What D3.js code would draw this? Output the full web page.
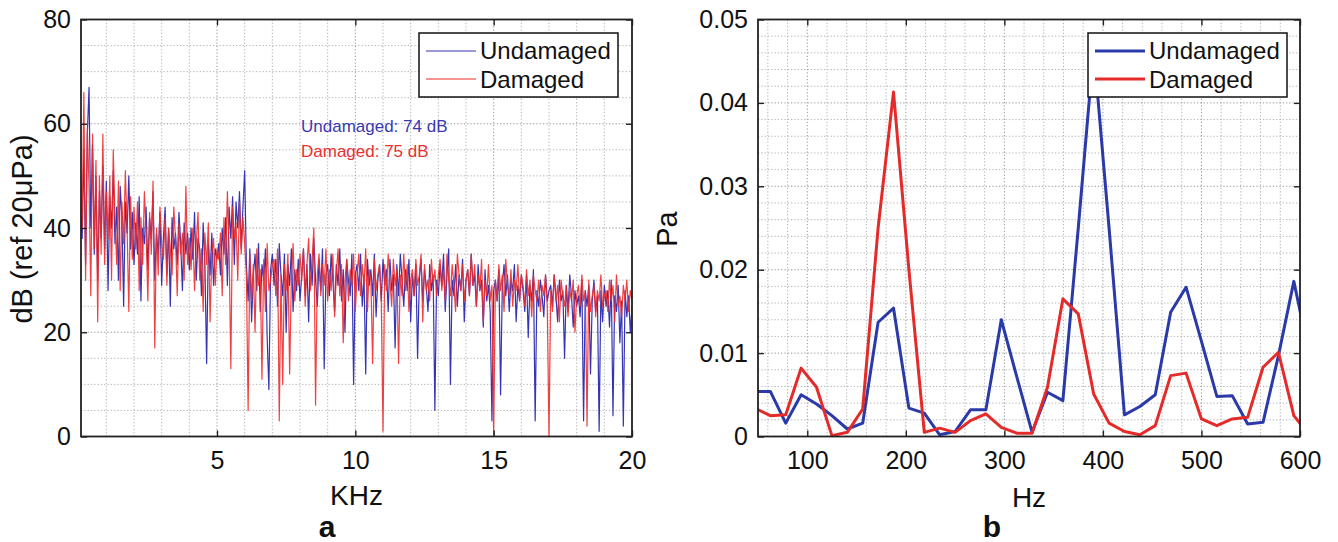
<!DOCTYPE html>
<html>
<head>
<meta charset="utf-8">
<script src="https://cdn.jsdelivr.net/npm/d3@7"></script>
<style>
  body { margin: 0; background: #fff; }
  text { font-family: "Liberation Sans", Arial, Helvetica, sans-serif; }
</style>
</head>
<body>
<svg id="fig" width="1338" height="542"></svg>
<script>
// panel a: level per 62.5 Hz bin, 16 bins per kHz (one row = 1 kHz)
const kHzBin = 0.0625;
const undamagedDb = [
  45,38,55,33,58,67,40,56,35,50,30,47,38,52,36,49,
  28,46,40,51,37,44,30,48,42,25,45,39,50,36,43,33,
  41,35,46,26,40,37,44,32,42,38,47,30,39,35,43,29,
  38,44,31,40,25,42,36,39,33,43,37,28,41,35,39,32,
  40,34,43,30,38,36,27,41,33,14,37,31,39,29,36,34,
  37,31,40,35,42,29,44,38,46,33,45,40,47,36,44,51,
  33,26,36,22,31,35,28,37,24,33,30,36,19,9,32,35,
  29,34,25,37,31,27,35,20,33,29,36,24,32,28,34,26,
  31,36,27,33,22,35,29,38,30,25,34,28,36,13,31,33,
  27,35,30,24,33,29,36,26,32,20,34,30,27,35,10,31,
  33,28,35,25,31,12,34,29,32,27,35,23,30,33,26,34,
  29,32,24,34,28,31,17,33,27,35,30,25,32,28,34,22,
  31,27,33,15,30,34,26,32,29,24,33,28,31,5,30,27,
  33,29,35,24,31,36,10,30,27,33,25,31,28,34,22,30,
  32,27,35,29,31,25,33,28,30,21,32,26,29,24,3,28,
  30,26,32,8,29,33,27,31,24,30,28,33,22,29,26,31,
  28,24,31,19,29,26,32,3,28,25,30,27,23,31,26,28,
  29,25,31,27,22,30,26,28,15,29,24,31,27,21,28,25,
  27,23,30,3,28,25,29,12,26,30,24,27,1,28,22,29,
  25,28,21,30,4,27,24,29,18,26,2,28,23,27,20,25
];
const damagedDb = [
  52,40,66,30,59,48,27,58,36,53,22,50,35,58,33,47,
  38,50,30,55,42,33,49,28,45,37,51,40,24,46,34,44,
  36,45,28,42,33,47,39,26,43,35,49,17,40,31,44,37,
  34,42,29,40,36,31,44,38,27,41,35,39,30,48,33,38,
  32,40,28,37,43,30,36,24,39,33,41,22,35,38,29,36,
  34,39,27,42,33,47,36,13,44,38,41,30,45,35,42,37,
  31,5,35,26,33,20,36,29,32,11,34,24,37,28,30,33,
  34,27,36,3,31,10,33,28,35,12,30,37,26,32,29,35,
  30,36,25,33,38,28,34,40,6,31,35,27,33,29,36,26,
  32,28,35,23,31,36,27,33,18,30,34,26,32,29,35,24,
  31,35,27,33,29,36,24,32,30,14,34,28,31,33,26,1,
  33,28,35,30,25,34,29,32,14,31,27,35,28,33,24,30,
  32,27,34,29,31,35,22,33,28,30,26,34,29,32,27,31,
  34,28,32,26,35,30,27,33,29,24,35,31,28,33,26,30,
  32,27,35,29,33,25,31,28,34,22,30,27,33,26,29,0,
  30,26,33,28,31,24,34,29,27,32,25,30,28,33,26,31,
  29,25,32,27,30,23,31,28,26,30,24,29,27,31,25,0,
  28,24,31,26,29,22,30,27,25,29,23,28,26,30,20,27,
  29,25,31,26,28,2,30,24,27,29,23,28,26,31,25,27,
  28,24,30,26,29,22,31,25,27,23,29,26,30,24,28,26
];

// panel b: low-frequency amplitude
const hzBins = [46.875, 62.5, 78.125, 93.75, 109.375, 125, 140.625, 156.25, 171.875, 187.5,
  203.125, 218.75, 234.375, 250, 265.625, 281.25, 296.875, 312.5, 328.125, 343.75,
  359.375, 375, 390.625, 406.25, 421.875, 437.5, 453.125, 468.75, 484.375, 500,
  515.625, 531.25, 546.875, 562.5, 578.125, 593.75, 609.375];
const undamagedPa = [0.0054, 0.0054, 0.0016, 0.0050, 0.0039, 0.0025, 0.0009, 0.0016, 0.0137, 0.0154,
  0.0034, 0.0028, 0.0002, 0.0006, 0.0032, 0.0032, 0.0140, 0.0072, 0.0005, 0.0053,
  0.0043, 0.0250, 0.0465, 0.0250, 0.0026, 0.0036, 0.0050, 0.0149, 0.0179, 0.0114,
  0.0048, 0.0049, 0.0015, 0.0017, 0.0097, 0.0186, 0.0098];
const damagedPa = [0.0034, 0.0025, 0.0026, 0.0082, 0.0059, 0.0001, 0.0005, 0.0033, 0.0250, 0.0413,
  0.0200, 0.0005, 0.0010, 0.0005, 0.0019, 0.0027, 0.0011, 0.0004, 0.0004, 0.0059,
  0.0165, 0.0147, 0.0051, 0.0016, 0.0006, 0.0002, 0.0013, 0.0073, 0.0076, 0.0021,
  0.0013, 0.0021, 0.0023, 0.0083, 0.0101, 0.0025, 0.0002];

const kHzTicks = [5, 10, 15, 20];
const dbTicks = [0, 20, 40, 60, 80];
const hzTicks = [100, 200, 300, 400, 500, 600];
const paTicks = [0, 0.01, 0.02, 0.03, 0.04, 0.05];
const seriesNames = ["Undamaged", "Damaged"];
const levelNotes = ["Undamaged: 74 dB", "Damaged: 75 dB"];

const svg = d3.select("#fig");
svg.append("rect").attr("width", 1338).attr("height", 542).attr("fill", "#fff");

const plotTop = 19.5, plotBottom = 436.5;

function panel(cfg) {
  const x = d3.scaleLinear().domain(cfg.xDomain).range(cfg.xRange);
  const y = d3.scaleLinear().domain(cfg.yDomain).range([plotBottom, plotTop]);
  const g = svg.append("g");
  const x0 = cfg.xRange[0], x1 = cfg.xRange[1];

  // dotted grid, minor then major
  const grid = g.append("g").attr("fill", "none").attr("stroke-dasharray", "1.3,2");
  grid.selectAll(".vm").data(cfg.xMinor).join("line")
    .attr("x1", d => x(d)).attr("x2", d => x(d))
    .attr("y1", plotTop).attr("y2", plotBottom)
    .attr("stroke", "#b4b4b4");
  grid.selectAll(".hm").data(cfg.yMinor).join("line")
    .attr("x1", x0).attr("x2", x1)
    .attr("y1", d => y(d)).attr("y2", d => y(d))
    .attr("stroke", "#b4b4b4");
  grid.selectAll(".vM").data(cfg.xTicks).join("line")
    .attr("x1", d => x(d)).attr("x2", d => x(d))
    .attr("y1", plotTop).attr("y2", plotBottom)
    .attr("stroke", "#999");
  grid.selectAll(".hM").data(cfg.yTicks).join("line")
    .attr("x1", x0).attr("x2", x1)
    .attr("y1", d => y(d)).attr("y2", d => y(d))
    .attr("stroke", "#999");

  const clipId = "clip-" + cfg.id;
  svg.append("clipPath").attr("id", clipId)
    .append("rect")
    .attr("x", x0).attr("y", plotTop)
    .attr("width", x1 - x0).attr("height", plotBottom - plotTop);

  cfg.series.forEach(s => {
    const line = d3.line()
      .x((d, i) => x(cfg.xAt(i)))
      .y(d => y(d));
    g.append("path")
      .datum(s.values)
      .attr("clip-path", `url(#${clipId})`)
      .attr("fill", "none")
      .attr("stroke", s.color)
      .attr("stroke-width", cfg.lineWidth)
      .attr("stroke-opacity", s.opacity || 1)
      .attr("stroke-linejoin", "round")
      .attr("d", line);
  });

  // axes with inward ticks on all four sides
  const axes = g.append("g");
  axes.append("g").attr("transform", `translate(0,${plotBottom})`)
    .call(d3.axisBottom(x).tickValues(cfg.xTicks).tickSizeInner(-6).tickSizeOuter(0).tickPadding(15));
  axes.append("g").attr("transform", `translate(0,${plotTop})`)
    .call(d3.axisTop(x).tickValues(cfg.xTicks).tickFormat("").tickSizeInner(-6).tickSizeOuter(0));
  axes.append("g").attr("transform", `translate(${x0},0)`)
    .call(d3.axisLeft(y).tickValues(cfg.yTicks).tickFormat(cfg.yFormat).tickSizeInner(-6).tickSizeOuter(0).tickPadding(10));
  axes.append("g").attr("transform", `translate(${x1},0)`)
    .call(d3.axisRight(y).tickValues(cfg.yTicks).tickFormat("").tickSizeInner(-6).tickSizeOuter(0));
  axes.selectAll(".domain").remove();
  axes.selectAll(".tick line").attr("stroke", "#222").attr("stroke-width", 1.4);
  axes.selectAll("g").attr("font-size", null).attr("font-family", null);
  axes.selectAll(".tick text").attr("font-size", 25).attr("fill", "#111");

  g.append("rect")
    .attr("x", x0).attr("y", plotTop)
    .attr("width", x1 - x0).attr("height", plotBottom - plotTop)
    .attr("fill", "none").attr("stroke", "#222").attr("stroke-width", 1.8);

  // legend
  const lg = g.append("g");
  lg.append("rect")
    .attr("x", cfg.legendX).attr("y", 33)
    .attr("width", 199).attr("height", 64)
    .attr("fill", "#fff").attr("stroke", "#111").attr("stroke-width", 1.5);
  cfg.series.forEach((s, i) => {
    lg.append("line")
      .attr("x1", cfg.legendX + 7).attr("x2", cfg.legendX + 57)
      .attr("y1", 51 + i * 28).attr("y2", 51 + i * 28)
      .attr("stroke", s.color).attr("stroke-width", cfg.lineWidth);
    lg.append("text")
      .attr("x", cfg.legendX + 61).attr("y", 59 + i * 28.5)
      .attr("font-size", 24).attr("fill", "#111")
      .text(seriesNames[i]);
  });

  // axis labels and panel letter
  g.append("text")
    .attr("x", (x0 + x1) / 2).attr("y", cfg.xLabelY)
    .attr("text-anchor", "middle").attr("font-size", 28).attr("fill", "#111")
    .text(cfg.xLabel);
  g.append("text")
    .attr("transform", `translate(${cfg.yLabelX},229) rotate(-90)`)
    .attr("text-anchor", "middle").attr("font-size", 29).attr("fill", "#111")
    .text(cfg.yLabel);
  g.append("text")
    .attr("x", cfg.letterX).attr("y", 537)
    .attr("text-anchor", "middle")
    .attr("font-family", "'Liberation Serif', 'Times New Roman', serif")
    .attr("font-weight", "bold").attr("font-size", 30).attr("fill", "#111")
    .text(cfg.letter);

  return { x, y, g };
}

const a = panel({
  id: "a",
  xDomain: [0.084, 20], xRange: [81, 632],
  yDomain: [0, 80],
  xAt: i => (i + 1) * kHzBin,
  xTicks: kHzTicks, yTicks: dbTicks,
  xMinor: d3.range(1, 20).filter(v => v % 5 !== 0),
  yMinor: d3.range(5, 80, 5).filter(v => v % 20 !== 0),
  yFormat: d3.format("d"),
  lineWidth: 1.2,
  series: [
    { values: undamagedDb, color: "#3434b4" },
    { values: damagedDb, color: "#ee2b2b", opacity: 0.9 }
  ],
  legendX: 419,
  xLabel: "KHz", xLabelY: 505,
  yLabel: "dB (ref 20\u03bcPa)", yLabelX: 32,
  letter: "a", letterX: 327
});

a.g.selectAll(".note")
  .data(levelNotes)
  .join("text")
  .attr("x", 301)
  .attr("y", (d, i) => 131.5 + i * 25.5)
  .attr("font-size", 17)
  .attr("fill", (d, i) => i === 0 ? "#3a3ab0" : "#ea3030")
  .text(d => d);

panel({
  id: "b",
  xDomain: [50, 600], xRange: [758, 1300],
  yDomain: [0, 0.05],
  xAt: i => hzBins[i],
  xTicks: hzTicks, yTicks: paTicks,
  xMinor: d3.range(60, 600, 20).filter(v => v % 100 !== 0),
  yMinor: d3.range(1, 25).filter(v => v % 5 !== 0).map(v => v * 0.002),
  yFormat: d => d === 0 ? "0" : d.toFixed(2),
  lineWidth: 3,
  series: [
    { values: undamagedPa, color: "#2a3aa8" },
    { values: damagedPa, color: "#e52a2a" }
  ],
  legendX: 1088,
  xLabel: "Hz", xLabelY: 507,
  yLabel: "Pa", yLabelX: 677,
  letter: "b", letterX: 992
});
</script>
</body>
</html>
